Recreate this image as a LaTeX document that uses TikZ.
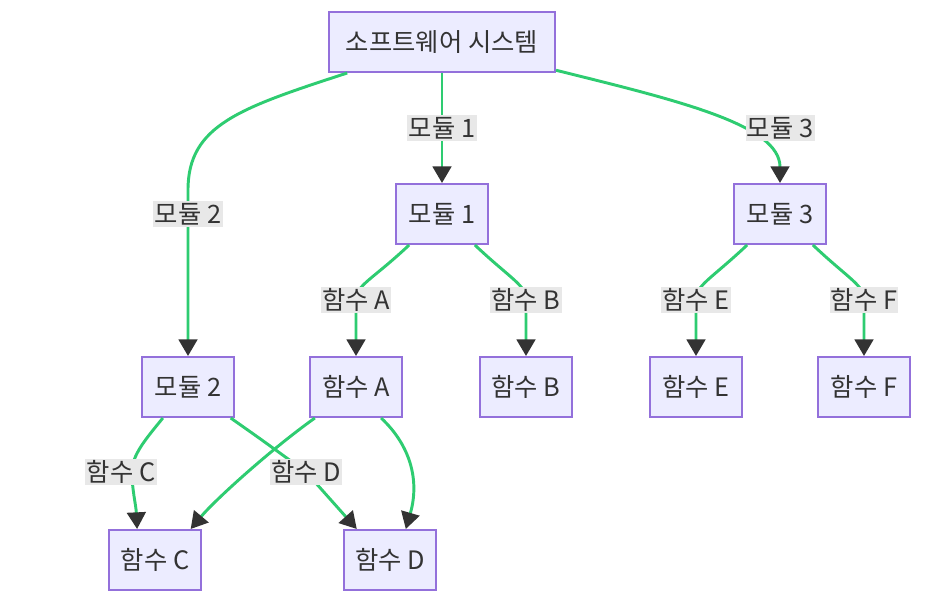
\documentclass[tikz,border=0pt]{standalone}
\usepackage{fontspec}
\setmainfont{Noto Sans CJK KR}
\usetikzlibrary{arrows.meta}
\definecolor{boxfill}{HTML}{ECECFF}
\definecolor{boxline}{HTML}{9370DB}
\definecolor{edgegreen}{HTML}{2ECC71}
\definecolor{tipgray}{HTML}{333333}
\definecolor{lblfill}{HTML}{E8E8E8}
\begin{document}
\begin{tikzpicture}[x=0.75pt,y=-0.75pt,
  box/.style={draw=boxline, fill=boxfill, line width=1.5pt, minimum width=69pt, minimum height=45pt, inner sep=0pt, text=tipgray, font=\fontsize{19}{21}\selectfont},
  lbl/.style={fill=lblfill, inner xsep=1pt, inner ysep=0pt, minimum height=20pt, text=tipgray, font=\fontsize{19}{21}\selectfont},
  edge/.style={draw=edgegreen, line width=2.2pt, -{Triangle[length=12.5pt, width=14pt, color=tipgray]}}]
\useasboundingbox (0,0) rectangle (932,597);
\node[box, minimum width=169.5pt] (root) at (442,42) {소프트웨어 시스템};
\node[box] (m1) at (442,214) {모듈 1};
\node[box] (m2) at (188,387) {모듈 2};
\node[box] (m3) at (780,214) {모듈 3};
\node[box] (fA) at (356,387) {함수 A};
\node[box] (fB) at (526,387) {함수 B};
\node[box] (fE) at (696,387) {함수 E};
\node[box] (fF) at (864,387) {함수 F};
\node[box] (fC) at (155,560) {함수 C};
\node[box] (fD) at (390,560) {함수 D};
% edges
\draw[edge] (root) -- node[lbl] (e1) {모듈 1} (m1);
\draw[edge] (root) .. controls (240,108) and (188,125) .. (188,190) -- (m2);
\draw[edge] (root) .. controls (680,101) and (780,125) .. (m3);
\draw[edge] (m1) .. controls (372,280) and (356,285) .. (356,300) -- (fA);
\draw[edge] (m1) .. controls (512,280) and (526,285) .. (526,300) -- (fB);
\draw[edge] (m3) .. controls (710,280) and (696,285) .. (696,300) -- (fE);
\draw[edge] (m3) .. controls (850,280) and (864,285) .. (864,300) -- (fF);
\draw[edge] (m2) .. controls (145,440) and (132,455) .. (132,472) .. controls (132,490) and (136,505) .. (fC.120);
\draw[edge] (m2.-36) .. controls (262,440) .. (306,472) -- (fD.137);
\draw[edge] (fA.217) .. controls (270,450) and (215,500) .. (fC.41);
\draw[edge] (fA.-51) .. controls (410,445) and (420,480) .. (fD.63);
% labels
\node[lbl] (e2) at (188,214) {모듈 2};
\node[lbl] (e3) at (780,128) {모듈 3};
\node[lbl] (eA) at (356,300) {함수 A};
\node[lbl] (eB) at (526,300) {함수 B};
\node[lbl] (eE) at (696,300) {함수 E};
\node[lbl] (eF) at (864,300) {함수 F};
\node[lbl] (eC) at (121,472) {함수 C};
\node[lbl] (eD) at (306,472) {함수 D};
\end{tikzpicture}
\end{document}
